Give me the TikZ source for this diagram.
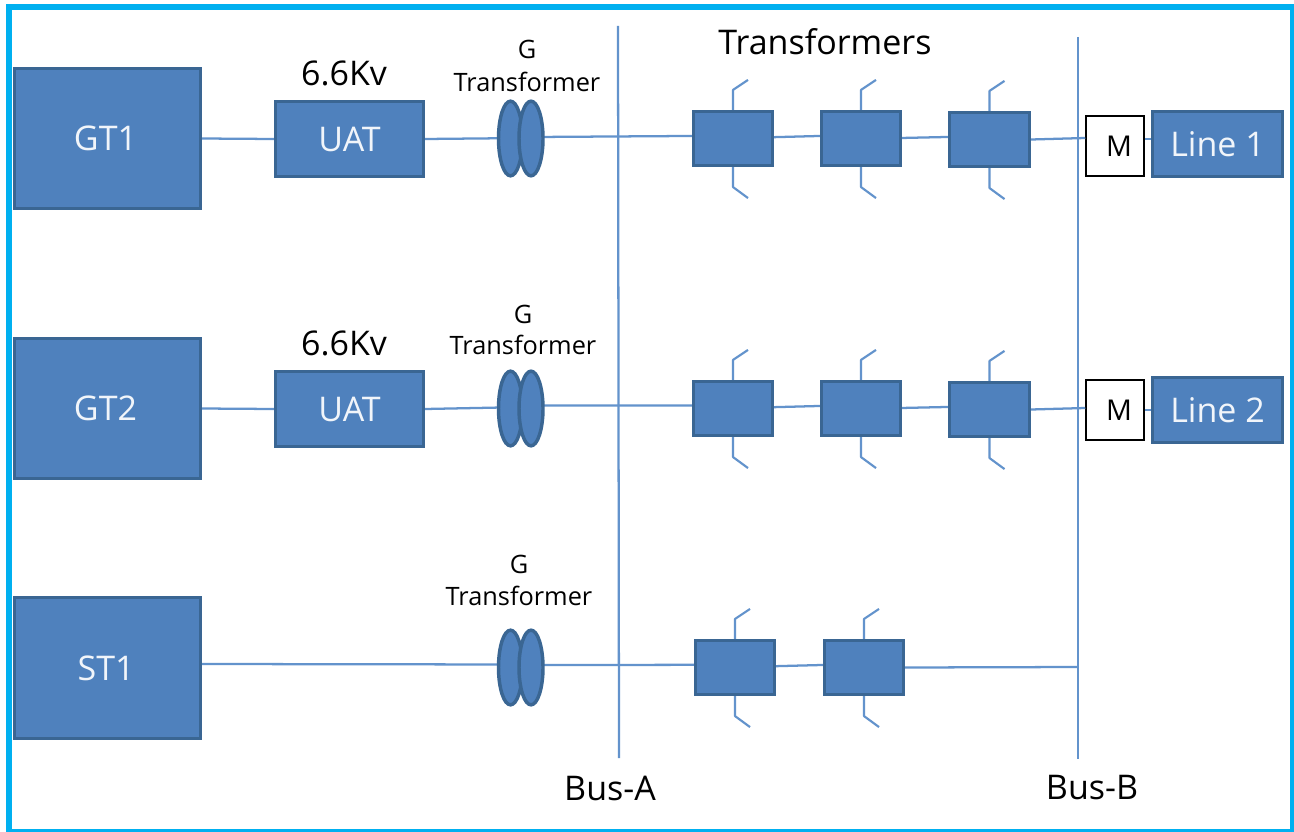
\documentclass[tikz,border=0pt]{standalone}
\usepackage{fontspec}
\setmainfont{Open Sans}
\usetikzlibrary{shapes.geometric,calc}
\definecolor{boxfill}{HTML}{4F81BD}
\definecolor{boxline}{HTML}{3A6693}
\definecolor{wire}{HTML}{6393CC}
\definecolor{frameblue}{HTML}{00B0F0}
\tikzset{
  x=0.75pt,y=-0.75pt,
  bluebox/.style={draw=boxline,fill=boxfill,line width=2.6pt,rectangle,inner sep=0pt,text=white!92!boxfill},
  coil/.style={draw=boxline,fill=boxfill,line width=2.6pt,ellipse,inner sep=0pt,minimum width=18pt,minimum height=56pt},
  mbox/.style={draw=black,fill=white,line width=1.4pt,rectangle,inner sep=0pt},
  wireline/.style={draw=wire,line width=1.7pt},
  stubline/.style={draw=wire,line width=1.6pt,line join=round},
  biglabel/.style={font=\fontsize{25.5}{25.5}\selectfont},
  toplabel/.style={text=black,inner sep=0pt,font=\fontsize{25.5}{25.5}\selectfont},
  smalllabel/.style={text=black,inner sep=0pt,font=\fontsize{19}{19}\selectfont},
  mlabel/.style={text=black,inner sep=0pt,font=\fontsize{21.5}{21.5}\selectfont},
}
% \unitbox{name}{left}{top}{right}{bottom}{style}{text}: coordinates are the outer edges
\newcommand{\unitbox}[7]{%
  \pgfmathsetmacro{\cxx}{(#2+#4)/2}%
  \pgfmathsetmacro{\cyy}{(#3+#5)/2}%
  \pgfmathsetmacro{\wdd}{(#4-#2)*0.75-1}%
  \pgfmathsetmacro{\htt}{(#5-#3)*0.75-1}%
  \node[#6,minimum width=\wdd pt,minimum height=\htt pt] (#1) at (\cxx,\cyy) {#7};%
}
% \xfmr{name}{left}{top}{right}{bottom}: transformer box with its two stubs
\newcommand{\xfmr}[5]{%
  \unitbox{#1}{#2}{#3}{#4}{#5}{bluebox}{}%
  \coordinate (#1ua) at ($(#1.north)+(0,-20)$);%
  \coordinate (#1ub) at ($(#1.north)+(15,-30)$);%
  \coordinate (#1da) at ($(#1.south)+(0,20)$);%
  \coordinate (#1db) at ($(#1.south)+(15,31)$);%
  \draw[stubline] (#1.north) -- (#1ua) -- (#1ub);%
  \draw[stubline] (#1.south) -- (#1da) -- (#1db);%
}
\newcommand{\gxfmr}[2]{%
  \node[coil] (#1a) at (510.5,#2) {};%
  \node[coil] (#1b) at (531,#2) {};%
}
\begin{document}
\begin{tikzpicture}
\useasboundingbox (0,0) rectangle (1294,831);
\fill[white] (0,0) rectangle (1294,831);
\node[draw=frameblue,line width=4.4pt,rectangle,inner sep=0pt,minimum width=963pt,minimum height=618.75pt] (frame) at (651,419.5) {};

% buses
\coordinate (busAtop) at (618,26); \coordinate (busAbot) at (619,758);
\coordinate (busBtop) at (1078,37); \coordinate (busBbot) at (1078,759);
\coordinate (jb3) at (1078,667);

% row 1
\unitbox{GT1}{14}{68}{201}{209}{bluebox,biglabel}{\hspace*{-3pt}GT1}
\unitbox{UAT1}{275}{101}{424}{177}{bluebox,biglabel}{UAT}
\xfmr{T11}{693}{111}{773}{166}
\xfmr{T12}{821}{111}{901}{166}
\xfmr{T13}{949}{112}{1030}{167}
\unitbox{M1}{1085.5}{115.5}{1144.5}{176.5}{mbox}{}
\unitbox{L1}{1152}{111}{1283}{177}{bluebox,biglabel}{Line 1}
\node[mlabel] (M1t) at (1119,146) {M};

% row 2
\unitbox{GT2}{14}{338}{201}{479}{bluebox,biglabel}{\hspace*{-3pt}GT2}
\unitbox{UAT2}{275}{371}{424}{447}{bluebox,biglabel}{UAT}
\xfmr{T21}{693}{381}{773}{436}
\xfmr{T22}{821}{381}{901}{436}
\xfmr{T23}{949}{382}{1030}{437}
\unitbox{M2}{1085.5}{379.5}{1144.5}{440.5}{mbox}{}
\unitbox{L2}{1152}{377}{1283}{443}{bluebox,biglabel}{Line 2}
\node[mlabel] (M2t) at (1119,410) {M};

% row 3
\unitbox{ST1}{14}{597}{201}{739}{bluebox,biglabel}{\hspace*{-2pt}ST1}
\xfmr{T31}{695}{640}{775}{695}
\xfmr{T32}{824}{640}{904}{695}

% connectors
\begin{scope}[wireline]
\draw (busAtop) -- (busAbot);
\draw (busBtop) -- (busBbot);
\draw (GT1.east) -- (UAT1.west);
\draw (UAT1.east) -- (527,138);
\draw (535,137) -- ([yshift=1.9pt]T11.west);
\draw ([yshift=1pt]T11.east) -- ([yshift=1.9pt]T12.west);
\draw ([yshift=0.4pt]T12.east) -- ([yshift=1.9pt]T13.west);
\draw (T13.east) -- ([yshift=6pt]M1.west);
\draw ([yshift=5.2pt]M1.east) -- ([yshift=3.7pt]L1.west);

\draw (GT2.east) -- (UAT2.west);
\draw (UAT2.east) -- (527,407);
\draw (535,405.5) -- ([yshift=2.2pt]T21.west);
\draw ([yshift=1pt]T21.east) -- ([yshift=1.9pt]T22.west);
\draw ([yshift=0.4pt]T22.east) -- ([yshift=1.9pt]T23.west);
\draw (T23.east) -- ([yshift=1.5pt]M2.west);
\draw (M2.east) -- (L2.west);

\draw ([yshift=3pt]ST1.east) -- (527,664.5);
\draw (535,665) -- ([yshift=2pt]T31.west);
\draw ([yshift=1pt]T31.east) -- ([yshift=1.9pt]T32.west);
\draw (T32.east) -- (jb3);
\end{scope}

% coils on top of their wires
\gxfmr{G1}{138.5}
\gxfmr{G2}{408.5}
\gxfmr{G3}{667.5}

% labels
\node[toplabel] (v1) at (344,73) {6.6Kv};
\node[toplabel] (v2) at (344,343) {6.6Kv};
\node[toplabel] (title) at (825,42) {Transformers};
\node[smalllabel] (g1) at (527,49) {G};
\node[smalllabel] (gt1) at (527,82) {Transformer};
\node[smalllabel] (g2) at (523,314) {G};
\node[smalllabel] (gt2) at (523,345) {Transformer};
\node[smalllabel] (g3) at (519,564) {G};
\node[smalllabel] (gt3) at (519,596) {Transformer};
\node[toplabel] (ba) at (610,788) {Bus-A};
\node[toplabel] (bb) at (1092,788) {Bus-B};
\end{tikzpicture}
\end{document}
